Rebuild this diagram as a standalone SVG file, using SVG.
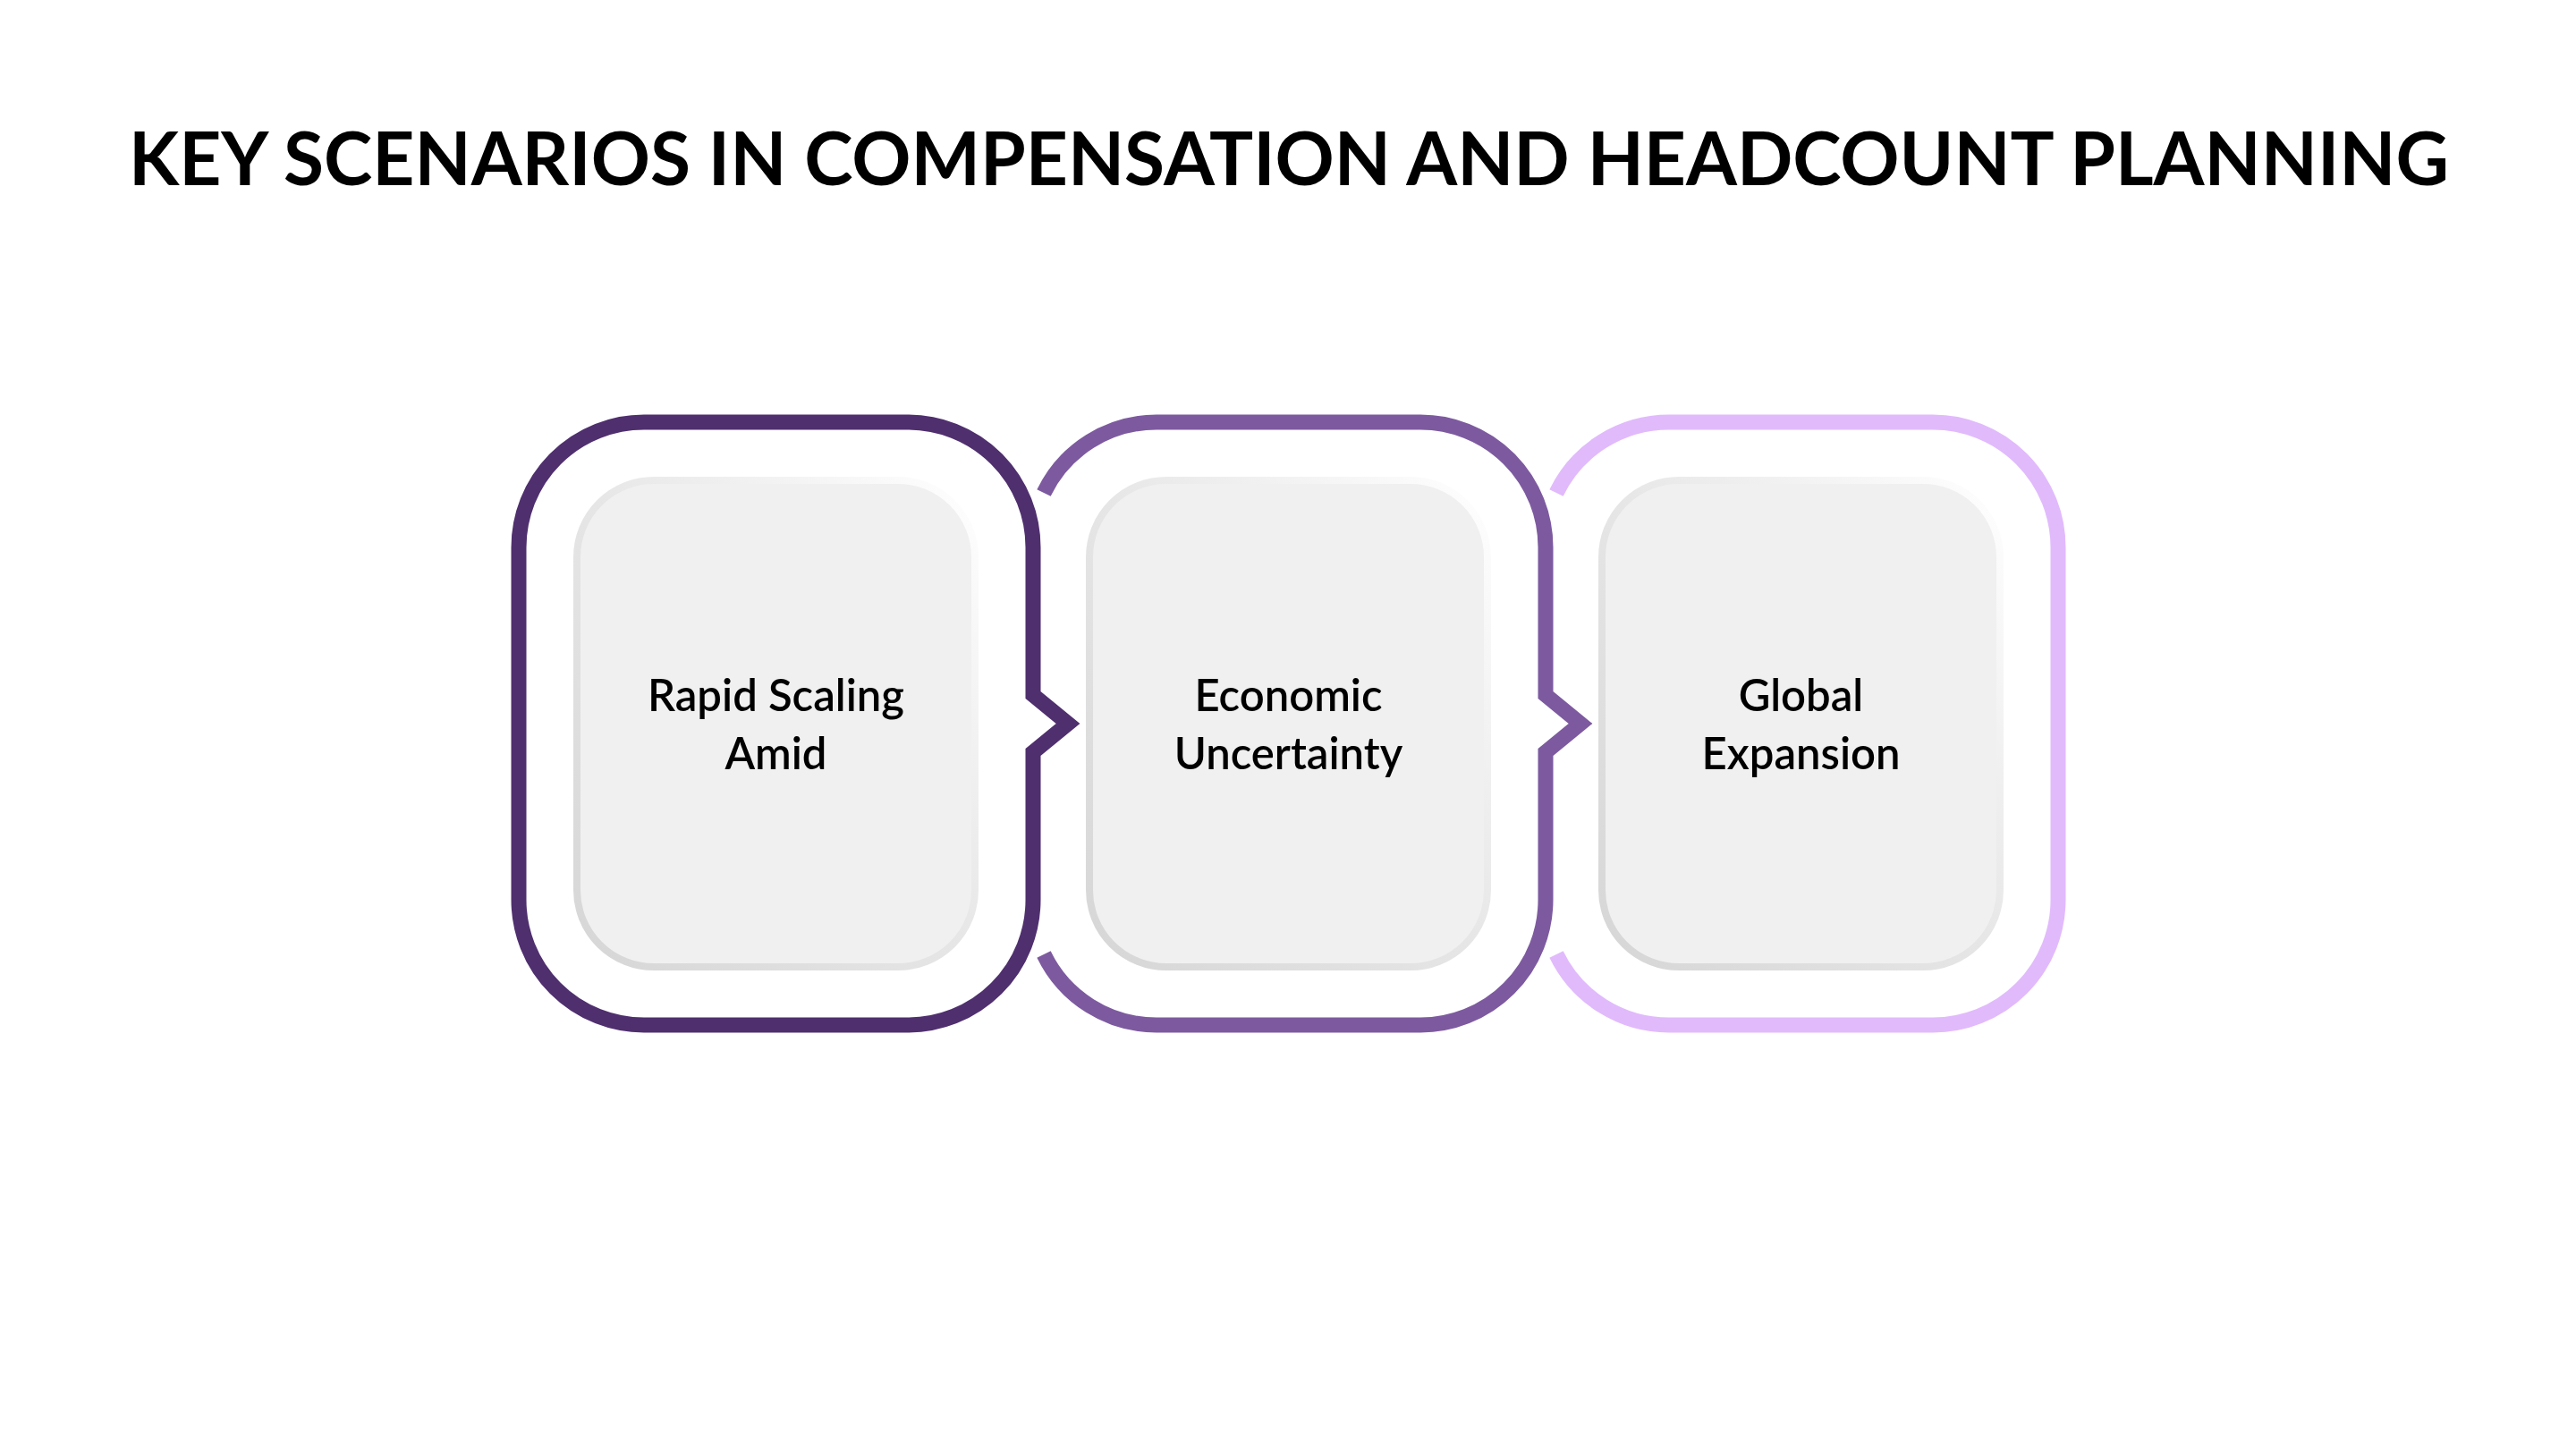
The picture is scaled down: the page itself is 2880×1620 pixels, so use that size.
<svg xmlns="http://www.w3.org/2000/svg" width="2880" height="1620" viewBox="0 0 2880 1620">
  <style>
    .title { font-family: "Lato", "Liberation Sans", sans-serif; font-weight: 700; font-size: 82px; fill: #000000; }
    .label { font-family: "Lato", "Liberation Sans", sans-serif; font-weight: 600; font-size: 49px; fill: #000000; }
    .outline { fill: none; stroke-width: 17; stroke-linejoin: miter; stroke-linecap: butt; }
    .card { fill: #f0f0f0; stroke: url(#cardStroke); stroke-width: 8; }
  </style>
  <defs>
    <linearGradient id="cardStroke" x1="1" y1="0" x2="0" y2="1">
      <stop offset="0" stop-color="#ffffff"/>
      <stop offset="0.5" stop-color="#e6e6e6"/>
      <stop offset="1" stop-color="#d6d6d6"/>
    </linearGradient>
  </defs>
  <rect x="0" y="0" width="2880" height="1620" fill="#ffffff"/>
  <text class="title" x="1441" y="207" text-anchor="middle" textLength="2594" lengthAdjust="spacingAndGlyphs">KEY SCENARIOS IN COMPENSATION AND HEADCOUNT PLANNING</text>

  <g id="connectors"></g>

  <g id="node-3">
    <path class="outline" stroke="#e1bafc" d="M 1740 551 A 140 140 0 0 1 1866 472 H 2161 A 140 140 0 0 1 2301 612 V 1006 A 140 140 0 0 1 2161 1146 H 1866 A 140 140 0 0 1 1740 1067"/>
    <rect class="card" x="1791" y="537" width="445" height="544" rx="86" ry="86"/>
    <text class="label" text-anchor="middle"><tspan x="2013.5" y="795">Global</tspan><tspan x="2013.5" y="860">Expansion</tspan></text>
  </g>

  <g id="node-2">
    <path class="outline" stroke="#7d5a9f" d="M 1167 551 A 140 140 0 0 1 1293 472 H 1588 A 140 140 0 0 1 1728 612 V 777 L 1767 809 L 1728 841 V 1006 A 140 140 0 0 1 1588 1146 H 1293 A 140 140 0 0 1 1167 1067"/>
    <rect class="card" x="1218" y="537" width="445" height="544" rx="86" ry="86"/>
    <text class="label" text-anchor="middle"><tspan x="1440.5" y="795">Economic</tspan><tspan x="1440.5" y="860">Uncertainty</tspan></text>
  </g>

  <g id="node-1">
    <path class="outline" stroke="#4f2f6e" d="M 720 472 H 1015 A 140 140 0 0 1 1155 612 V 777 L 1194 809 L 1155 841 V 1006 A 140 140 0 0 1 1015 1146 H 720 A 140 140 0 0 1 580 1006 V 612 A 140 140 0 0 1 720 472 Z"/>
    <rect class="card" x="645" y="537" width="445" height="544" rx="86" ry="86"/>
    <text class="label" text-anchor="middle"><tspan x="867.5" y="795">Rapid Scaling</tspan><tspan x="867.5" y="860">Amid</tspan></text>
  </g>
</svg>
